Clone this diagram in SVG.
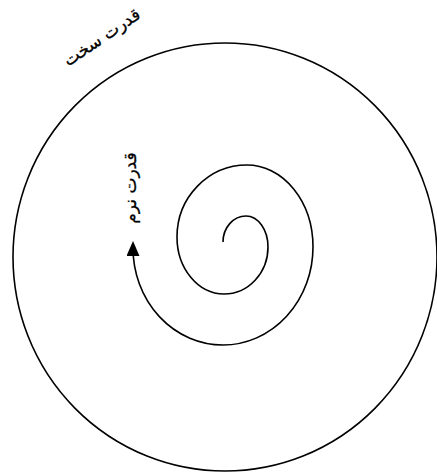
<svg xmlns="http://www.w3.org/2000/svg" width="437" height="473" viewBox="0 0 437 473">
<defs>
<style>
.line{fill:none;stroke:#000;stroke-width:1.6}
.lbl{font-family:"DejaVu Sans",sans-serif;font-size:17px;fill:#000;stroke:#000;stroke-width:0.3}
</style>
<marker id="ah" markerUnits="userSpaceOnUse" markerWidth="16" markerHeight="14" refX="8" refY="6.5" orient="auto">
<path d="M0,0 L15,6.5 L0,13 z" fill="#000"/>
</marker>
</defs>
<rect width="437" height="473" fill="#fff"/>
<g id="hard-power">
<ellipse class="line" cx="225" cy="257" rx="212" ry="214"/>
<text class="lbl" text-anchor="middle" direction="rtl" transform="translate(105,42) rotate(-34)">قدرت سخت</text>
</g>
<g id="connectors">
<path class="line" marker-end="url(#ah)" d="M223,242 A23,26 0 0 1 246,216 A22,31 0 0 1 268,247 A44,47 0 0 1 224,294 A47,57 0 0 1 177,237 A70,72 0 0 1 247,165 A66,82 0 0 1 313,247 A90,98 0 0 1 223,345 A90,97 0 0 1 133,248"/>
</g>
<g id="soft-power">
<text class="lbl" text-anchor="middle" direction="rtl" transform="translate(136,188) rotate(-90)">قدرت نرم</text>
</g>
</svg>
